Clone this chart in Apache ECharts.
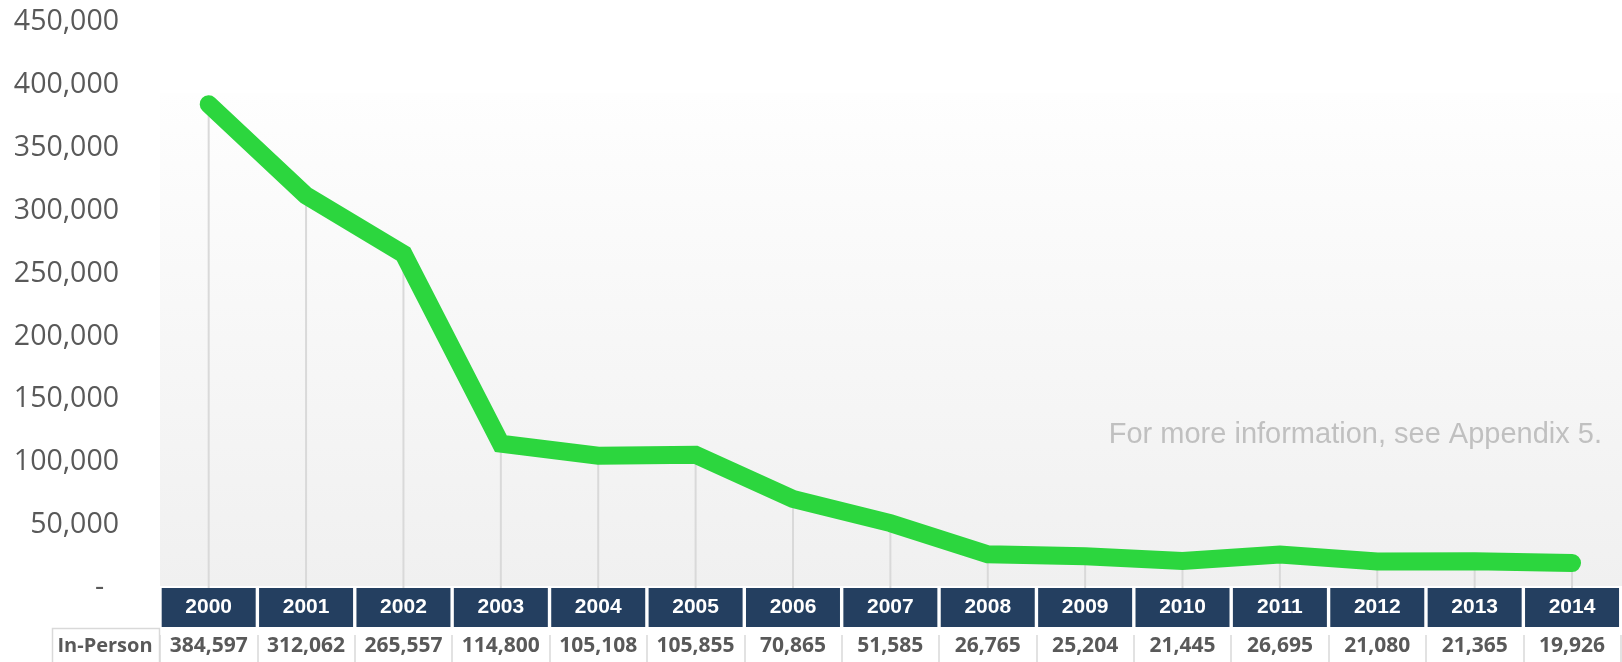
<!DOCTYPE html>
<html>
<head>
<meta charset="utf-8">
<script src="https://cdn.jsdelivr.net/npm/echarts@6/dist/echarts.min.js"></script>
<style>
html,body{margin:0;padding:0;background:#fff;}
#chart{width:1622px;height:662px;}
</style>
</head>
<body>
<div id="chart"></div>
<script>
const years = ['2000','2001','2002','2003','2004','2005','2006','2007','2008','2009','2010','2011','2012','2013','2014'];
const inPerson = [384597,312062,265557,114800,105108,105855,70865,51585,26765,25204,21445,26695,21080,21365,19926];
const rowLabel = 'In-Person';
const yTicks = [0,50000,100000,150000,200000,250000,300000,350000,400000,450000];
const note = 'For more information, see Appendix 5.';

const fmt = v => v.toLocaleString('en-US');
const chart = echarts.init(document.getElementById('chart'));
chart.setOption({
  animation: false,
  backgroundColor: '#ffffff',
  grid: {left: 160, right: 0, top: 22, bottom: 74},
  graphic: {elements: [
    {type: 'rect', z: -10, shape: {x: 160, y: 93, width: 1462, height: 493},
     style: {fill: new echarts.graphic.LinearGradient(0,0,0,1,[{offset:0,color:'#fefefe'},{offset:1,color:'#f0f0f0'}])}},
    {type: 'rect', z: 5, shape: {x: 52.5, y: 628.5, width: 107, height: 40},
     style: {fill: 'none', stroke: '#d9d9d9', lineWidth: 1.5}},
    {type: 'text', z: 6, x: 105, y: 646,
     style: {text: rowLabel, fill: '#595959', font: 'bold 20px "Open Sans"', align: 'center', verticalAlign: 'middle'}},
    {type: 'text', z: 6, x: 1602, y: 435,
     style: {text: note, fill: '#c0c0c0', font: '29px "Liberation Sans"', align: 'right', verticalAlign: 'middle'}}
  ]},
  xAxis: [
    {type: 'category', data: years, position: 'bottom', boundaryGap: true,
     axisLine: {show: false}, axisTick: {show: false}, splitLine: {show: false},
     axisLabel: {interval: 0, margin: 0, color: '#ffffff', fontWeight: 'bold', fontSize: 21,
       fontFamily: 'Liberation Sans', backgroundColor: '#243f60', width: 94, height: 39, lineHeight: 39, padding: 0}},
    {type: 'category', data: inPerson.map(fmt), position: 'bottom', offset: 47, boundaryGap: true,
     axisLine: {show: false},
     axisTick: {show: true, interval: 0, length: 28, lineStyle: {color: '#d9d9d9', width: 1.5}},
     axisLabel: {interval: 0, margin: 11, color: '#595959', fontWeight: 'bold', fontSize: 21,
       fontFamily: 'Open Sans', verticalAlign: 'middle'}}
  ],
  yAxis: {
    type: 'value', min: yTicks[0], max: yTicks[yTicks.length-1], interval: yTicks[1]-yTicks[0],
    axisLine: {show: false}, axisTick: {show: false}, splitLine: {show: false},
    axisLabel: {margin: 41, color: '#595959', fontSize: 28.5, fontFamily: 'Open Sans',
      formatter: v => v === 0 ? '-  ' : fmt(v)}
  },
  series: [
    {type: 'bar', data: inPerson, barWidth: 2, z: 1, itemStyle: {color: '#d9d9d9'}, silent: true},
    {type: 'line', data: inPerson, z: 3, symbol: 'none',
     lineStyle: {color: '#2cd63e', width: 18, cap: 'round', join: 'miter'}}
  ]
});
</script>
</body>
</html>
